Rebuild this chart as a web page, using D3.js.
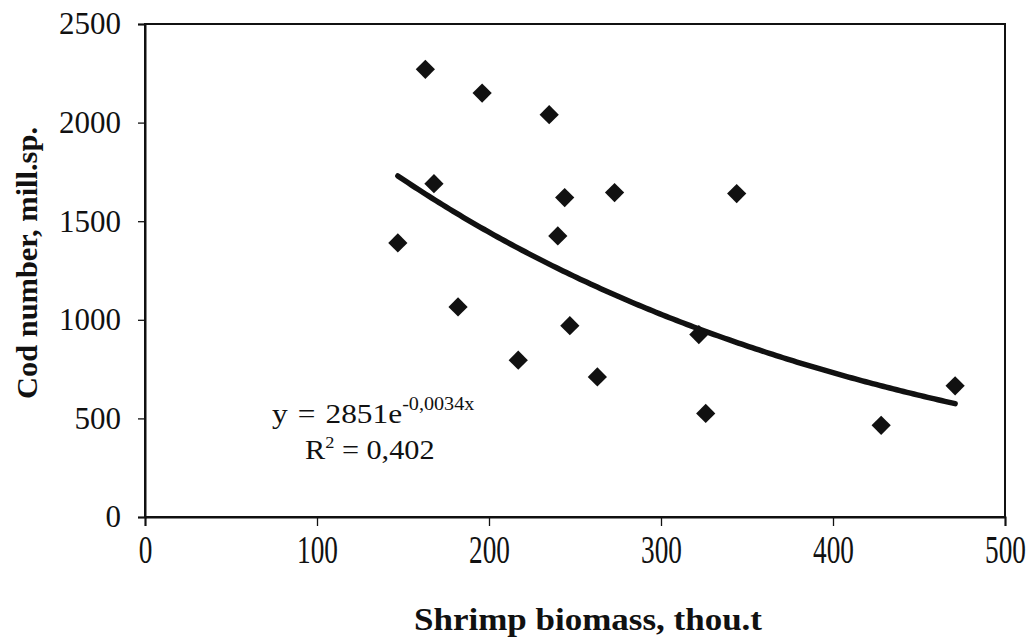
<!DOCTYPE html>
<html>
<head>
<meta charset="utf-8">
<script src="https://cdn.jsdelivr.net/npm/d3@7"></script>
<style>
  html, body { margin: 0; padding: 0; background: #fff; }
  svg { display: block; }
</style>
</head>
<body>
<svg id="chart" width="1034" height="641"></svg>
<script>
// ---- data ----
const shrimpBiomass = [147, 163, 168, 182, 196, 217, 235, 240, 244, 247, 263, 273, 322, 326, 344, 428, 471];
const codNumber     = [1390, 2270, 1690, 1065, 2150, 795, 2040, 1425, 1620, 970, 710, 1645, 925, 525, 1640, 465, 665];
const xTicks = [0, 100, 200, 300, 400, 500];
const yTicks = [0, 500, 1000, 1500, 2000, 2500];
const trendA = 2851, trendB = -0.0034;
const eqMain = "y = 2851e", eqExp = "-0,0034x";
const r2Text = "0,402";
const xTitle = "Shrimp biomass, thou.t";
const yTitle = "Cod number, mill.sp.";

// ---- layout ----
const svg = d3.select("#chart");
const L = 145, R = 1005, T = 24, B = 517;
const x = d3.scaleLinear().domain([0, 500]).range([L, R]);
const y = d3.scaleLinear().domain([0, 2500]).range([B, T]);
const ink = "#111";
const serif = "'Liberation Serif', 'Times New Roman', serif";

// frame
svg.append("rect").attr("x", L).attr("y", T).attr("width", R - L).attr("height", B - T)
  .attr("fill", "none").attr("stroke", ink).attr("stroke-width", 2);

// y axis
const yAxis = svg.append("g").attr("transform", `translate(${L},0)`)
  .call(d3.axisLeft(y).tickValues(yTicks).tickSize(7).tickPadding(17).tickFormat(d3.format("d")));
yAxis.select(".domain").attr("stroke", ink).attr("stroke-width", 2);
yAxis.selectAll(".tick line").attr("stroke", ink).attr("stroke-width", 1.3);
yAxis.selectAll(".tick text").attr("font-family", serif)
  .attr("font-size", 31).attr("fill", ink);

// x axis
const xAxis = svg.append("g").attr("transform", `translate(0,${B})`)
  .call(d3.axisBottom(x).tickValues(xTicks).tickSize(9).tickPadding(0).tickFormat(d3.format("d")));
xAxis.select(".domain").attr("stroke", ink).attr("stroke-width", 2);
xAxis.selectAll(".tick line").attr("stroke", ink).attr("stroke-width", 1.3);
xAxis.selectAll(".tick text").remove();
xAxis.selectAll(".tick").append("text")
  .attr("transform", "translate(0,46) scale(0.7,1)")
  .attr("text-anchor", "middle")
  .attr("font-family", serif)
  .attr("font-size", 39).attr("fill", ink)
  .text(d => d);

// trend line
const fitX = d3.range(d3.min(shrimpBiomass), d3.max(shrimpBiomass) + 0.5, 2);
svg.append("path")
  .datum(fitX)
  .attr("fill", "none").attr("stroke", ink).attr("stroke-width", 5.5).attr("stroke-linecap", "round")
  .attr("d", d3.line().x(d => x(d)).y(d => y(trendA * Math.exp(trendB * d))));

// points
const pts = shrimpBiomass.map((v, i) => ({ x: v, y: codNumber[i] }));
svg.append("g").selectAll("path").data(pts).join("path")
  .attr("d", d3.symbol().type(d3.symbolSquare).size(185))
  .attr("transform", d => `translate(${x(d.x)},${y(d.y)}) rotate(45)`)
  .attr("fill", ink);

// equation
const eq = svg.append("text").attr("transform", "translate(272,423) scale(1.12,1)")
  .attr("font-family", serif).attr("font-size", 28).attr("fill", ink)
  .attr("word-spacing", 2);
eq.append("tspan").text(eqMain);
eq.append("tspan").attr("dy", -13).attr("font-size", 18).attr("word-spacing", 0).text(eqExp);

const r2 = svg.append("text").attr("transform", "translate(305,459) scale(1.08,1)")
  .attr("font-family", serif).attr("font-size", 28).attr("fill", ink);
r2.append("tspan").text("R");
r2.append("tspan").attr("dy", -11).attr("font-size", 17).text("2");
r2.append("tspan").attr("dy", 11).text(" = " + r2Text);

// axis titles
svg.append("text").attr("x", 588).attr("y", 630)
  .attr("text-anchor", "middle")
  .attr("font-family", serif).attr("font-weight", "bold")
  .attr("font-size", 31).attr("fill", ink)
  .attr("textLength", 348).attr("lengthAdjust", "spacingAndGlyphs")
  .text(xTitle);

svg.append("text").attr("transform", "translate(37,263) rotate(-90)")
  .attr("text-anchor", "middle")
  .attr("font-family", serif).attr("font-weight", "bold")
  .attr("font-size", 29).attr("fill", ink)
  .attr("textLength", 272).attr("lengthAdjust", "spacingAndGlyphs")
  .text(yTitle);
</script>
</body>
</html>
